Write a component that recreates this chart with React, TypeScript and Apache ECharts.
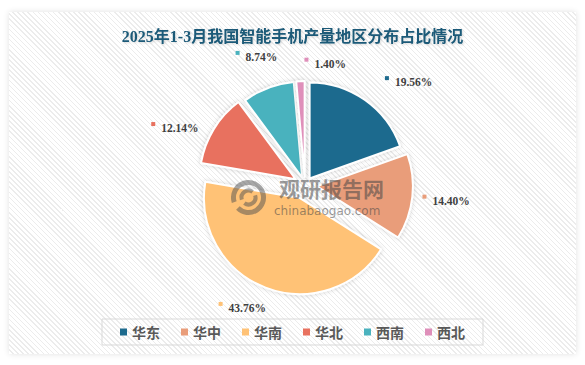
import React, { useEffect, useRef } from "react";
import * as echarts from "echarts";

const titleText = "2025年1-3月我国智能手机产量地区分布占比情况";
const categories = ["华东", "华中", "华南", "华北", "西南", "西北"];
const shares = [19.56, 14.4, 43.76, 12.14, 8.74, 1.4];
const colors = ["#1e6b8e", "#e99d7a", "#ffc276", "#e8715f", "#4ab2be", "#df8fba"];

// explosion distance of each slice (px) - style
const explode = [8, 12, 14, 11, 8, 8];
// label placement tweaks: [angle shift in degrees, distance from centre]
const labelTweak = [
  [10, 146],
  [0, 142],
  [6, 138],
  [-8, 142],
  [0, 137],
  [12, 123],
];

const CX = 305;
const CY = 185;
const R = 96;

export default function App() {
  const ref = useRef<HTMLDivElement>(null);
  useEffect(() => {
    if (!ref.current) return;
    const chart = echarts.init(ref.current, undefined, { renderer: "svg" });
    const total = shares.reduce((a, b) => a + b, 0);
    const midAngles: number[] = [];
    let acc = 0;
    shares.forEach((v) => {
      midAngles.push(((acc + v / 2) / total) * 360);
      acc += v;
    });
    const polar = (deg: number, d: number) => {
      const a = (deg * Math.PI) / 180;
      return [CX + d * Math.sin(a), CY - d * Math.cos(a)];
    };

    const series = categories.map((_, k) => ({
      type: "pie",
      center: polar(midAngles[k], explode[k]),
      radius: R,
      startAngle: 90,
      clockwise: true,
      silent: true,
      avoidLabelOverlap: false,
      emphasis: { disabled: true },
      z: 1,
      label: {
        show: true,
        position: "outside",
        formatter: (p: any) => "{m|}{v|" + p.value.toFixed(2) + "%}",
      },
      labelLine: { show: false, length: 20, length2: 6 },
      labelLayout: (p: any) => {
        const i = p.dataIndex;
        const t = polar(midAngles[i] + labelTweak[i][0], labelTweak[i][1]);
        return { x: t[0], y: t[1], align: "center", verticalAlign: "middle" };
      },
      data: categories.map((name, i) => {
        const show = i === k;
        return {
          name,
          value: shares[i],
          itemStyle: show
            ? {
                color: colors[i],
                borderColor: "#ffffff",
                borderWidth: 2,
                shadowBlur: 4,
                shadowColor: "rgba(0,0,0,0.18)",
              }
            : { color: "rgba(0,0,0,0)", borderWidth: 0, shadowBlur: 0, shadowColor: "rgba(0,0,0,0)" },
          label: show
            ? {
                show: true,
                rich: {
                  m: { backgroundColor: colors[i], width: 4, height: 4, verticalAlign: "top" },
                  v: {
                    fontFamily: "Liberation Serif",
                    fontWeight: "bold",
                    fontSize: 11.5,
                    color: "#3f3f3f",
                    padding: [0, 0, 0, 6],
                  },
                },
              }
            : { show: false },
        };
      }),
    }));

    const wm = "rgba(80,80,80,0.5)";
    chart.setOption({
      animation: false,
      title: {
        text: titleText,
        left: "center",
        top: 23,
        textStyle: {
          fontFamily: "Liberation Serif, Noto Sans CJK SC",
          fontSize: 16,
          fontWeight: "bold",
          color: "#1d5a78",
          textShadowColor: "rgba(0,0,0,0.15)",
          textShadowBlur: 2,
          textShadowOffsetX: 1,
          textShadowOffsetY: 1,
        },
      },
      legend: {
        data: categories.map((name, i) => ({ name, itemStyle: { color: colors[i], borderWidth: 0, shadowBlur: 0 } })),
        left: "center",
        top: 319,
        icon: "rect",
        itemWidth: 7,
        itemHeight: 7,
        itemGap: 21,
        padding: [6, 18],
        borderColor: "#d9d9d9",
        borderWidth: 1,
        selectedMode: false,
        textStyle: { fontFamily: "Noto Sans CJK SC", fontSize: 14, fontWeight: "bold", color: "#595959" },
      },
      graphic: [
        {
          type: "group",
          left: 231,
          top: 180,
          z: 100,
          silent: true,
          children: [
            { type: "arc", z: 100, shape: { cx: 20, cy: 17, r: 15, startAngle: Math.PI * 0.9, endAngle: Math.PI * 1.9 }, style: { stroke: wm, lineWidth: 5, fill: "none" } },
            { type: "arc", z: 100, shape: { cx: 20, cy: 17, r: 15, startAngle: -Math.PI * 0.1, endAngle: Math.PI * 0.75 }, style: { stroke: wm, lineWidth: 5, fill: "none" } },
            { type: "arc", z: 100, shape: { cx: 20, cy: 17, r: 7, startAngle: Math.PI * 0.9, endAngle: Math.PI * 1.7 }, style: { stroke: wm, lineWidth: 4, fill: "none" } },
            { type: "arc", z: 100, shape: { cx: 20, cy: 17, r: 7, startAngle: -Math.PI * 0.1, endAngle: Math.PI * 0.7 }, style: { stroke: wm, lineWidth: 4, fill: "none" } },
          ],
        },
        {
          type: "text",
          left: 279,
          top: 177,
          z: 100,
          silent: true,
          style: { text: "观研报告网", fontFamily: "Noto Sans CJK SC", fontWeight: "bold", fontSize: 21, fill: "rgba(70,70,70,0.55)" },
        },
        {
          type: "text",
          left: 274,
          top: 205,
          z: 100,
          silent: true,
          style: { text: "chinabaogao.com", fontFamily: "DejaVu Sans", fontSize: 12, fill: "rgba(70,70,70,0.55)" },
        },
      ],
      series,
    });
    return () => chart.dispose();
  }, []);

  return (
    <div style={{ position: "fixed", left: 0, top: 0, width: 585, height: 365, background: "#ffffff", overflow: "hidden" }}>
      <div
        style={{
          position: "absolute",
          left: 9,
          top: 12,
          width: 567,
          height: 342,
          boxShadow: "0 0 6px rgba(0,0,0,0.12)",
          backgroundColor: "#ffffff",
          backgroundImage:
            "repeating-linear-gradient(45deg, #ffffff 0px, #ffffff 2.5px, #ececec 2.5px, #ececec 3.6px)",
        }}
      />
      <div ref={ref} style={{ position: "absolute", left: 0, top: 0, width: 585, height: 365 }} />
    </div>
  );
}
